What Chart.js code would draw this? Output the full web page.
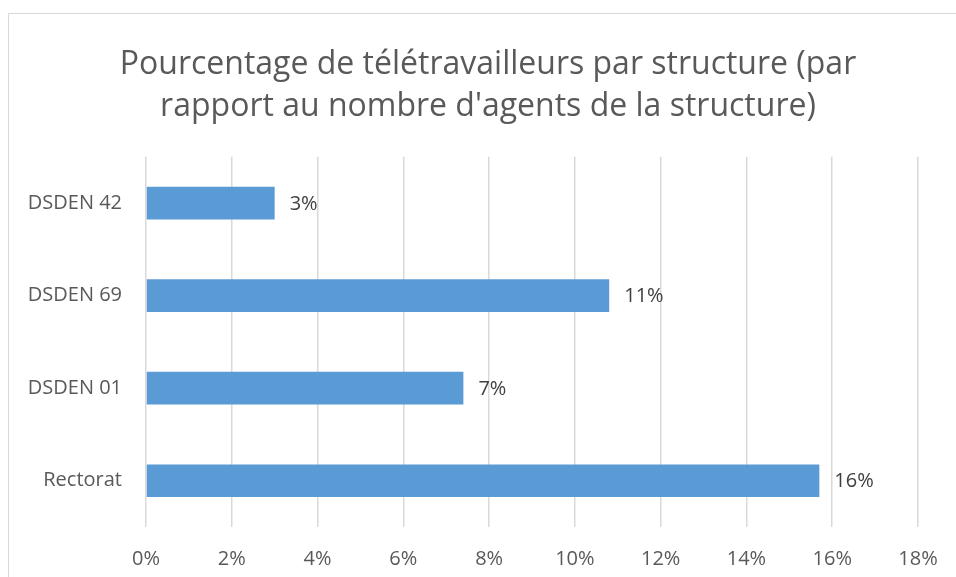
<!DOCTYPE html>
<html>
<head>
<meta charset="utf-8">
<script src="https://cdn.jsdelivr.net/npm/chart.js@4.4.1/dist/chart.umd.min.js"></script>
<style>
  html, body { margin: 0; padding: 0; background: #fff; overflow: hidden; }
  #wrap { position: relative; width: 956px; height: 577px; overflow: hidden; }
  #frame { position: absolute; left: 8px; top: 13px; width: 980px; height: 600px; border: 1px solid #d9d9d9; }
  #chart { position: absolute; left: 0; top: 0; }
</style>
</head>
<body>
<div id="wrap">
  <div id="frame"></div>
  <!-- a little wider than the window: the original frame runs past the right edge -->
  <canvas id="chart" width="958" height="577"></canvas>
</div>
<script>
var structures = ['DSDEN 42', 'DSDEN 69', 'DSDEN 01', 'Rectorat'];
var percentages = [3.0, 10.8, 7.4, 15.7];
var titleLines = ['Pourcentage de télétravailleurs par structure (par', 'rapport au nombre d\'agents de la structure)'];

var fontFamily = '"Open Sans", "DejaVu Sans", sans-serif';

// draws the value next to the end of each bar
var valueLabels = {
  id: 'valueLabels',
  afterDatasetsDraw: function(chart) {
    var ctx = chart.ctx;
    ctx.save();
    ctx.font = '20px ' + fontFamily;
    ctx.fillStyle = '#404040';
    ctx.textAlign = 'left';
    ctx.textBaseline = 'middle';
    chart.getDatasetMeta(0).data.forEach(function(bar, i) {
      ctx.fillText(Math.round(percentages[i]) + '%', bar.x + 15, bar.y + 1);
    });
    ctx.restore();
  }
};

var ctx = document.getElementById('chart').getContext('2d');
new Chart(ctx, {
  type: 'bar',
  data: {
    labels: structures,
    datasets: [{
      data: percentages,
      backgroundColor: '#5b9bd5',
      borderWidth: 0,
      barPercentage: 0.353,
      categoryPercentage: 1
    }]
  },
  options: {
    indexAxis: 'y',
    responsive: false,
    animation: false,
    layout: { padding: { top: 44, right: 0, left: 18, bottom: 5 } },
    plugins: {
      legend: { display: false },
      tooltip: { enabled: false },
      title: {
        display: true,
        text: titleLines,
        color: '#595959',
        font: { family: fontFamily, size: 32, weight: 'normal', lineHeight: 1.31 },
        padding: { top: 0, bottom: 29 }
      }
    },
    scales: {
      x: {
        min: 0,
        max: 18,
        ticks: {
          stepSize: 2,
          color: '#595959',
          font: { family: fontFamily, size: 20 },
          padding: 20,
          callback: function(v) { return v + '%'; }
        },
        grid: { color: '#d9d9d9', lineWidth: 1.5, drawTicks: false },
        border: { display: false },
        afterFit: function(scale) {
          scale.height = 45;
          scale.paddingLeft = 0;
          scale.paddingRight = 40;
        }
      },
      y: {
        ticks: {
          color: '#595959',
          font: { family: fontFamily, size: 20 },
          padding: 24
        },
        grid: { display: false, drawTicks: false },
        border: { display: false },
        afterFit: function(scale) { scale.width = 128; }
      }
    }
  },
  plugins: [valueLabels]
});
</script>
</body>
</html>
